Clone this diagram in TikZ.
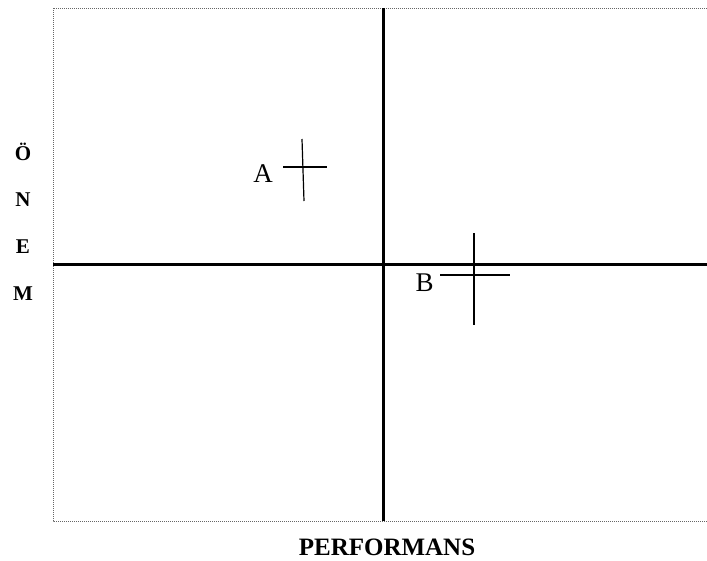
\documentclass[tikz,border=0pt]{standalone}
\usepackage{fontspec}
\setmainfont{Liberation Serif}
\begin{document}
\begin{tikzpicture}[x=1pt,y=-1pt,
  frame/.style={draw=black!60,line width=0.9pt,dash pattern=on 1pt off 1pt},
  axis/.style={draw=black,line width=3pt},
  tick/.style={draw=black,line width=1.2pt},
  ptlabel/.style={anchor=base,inner sep=0pt,font=\fontsize{27}{30}\selectfont},
  vlabel/.style={anchor=base,inner sep=0pt,font=\fontsize{21}{24}\selectfont\bfseries},
  hlabel/.style={anchor=base,inner sep=0pt,font=\fontsize{25}{28}\selectfont\bfseries}]
\useasboundingbox (0,0) rectangle (707,560);
\path[frame] (707,8) -- (53,8) -- (53,521) -- (707,521);
% axes
\coordinate (vt) at (383,8);
\coordinate (vb) at (383,521);
\coordinate (hl) at (53,264);
\coordinate (hr) at (707,264);
\path[axis] (vt) -- (vb);
\path[axis] (hl) -- (hr);
% cross A
\coordinate (a1) at (283,167);
\coordinate (a2) at (327,167);
\coordinate (a3) at (302,139);
\coordinate (a4) at (304,201);
\path[tick] (a1) -- (a2);
\path[tick] (a3) -- (a4);
\node[ptlabel] (A) at (263,182) {A};
% cross B
\coordinate (b1) at (440,275);
\coordinate (b2) at (510,275);
\coordinate (b3) at (474,233);
\coordinate (b4) at (474,325);
\path[tick] (b1) -- (b2);
\path[tick] (b3) -- (b4);
\node[ptlabel] (B) at (424.5,291) {B};
% vertical label
\node[vlabel] (l1) at (23,160) {Ö};
\node[vlabel] (l2) at (23,206) {N};
\node[vlabel] (l3) at (23,253) {E};
\node[vlabel] (l4) at (23,300) {M};
% horizontal label
\node[hlabel] (perf) at (387,555) {PERFORMANS};
\end{tikzpicture}
\end{document}
